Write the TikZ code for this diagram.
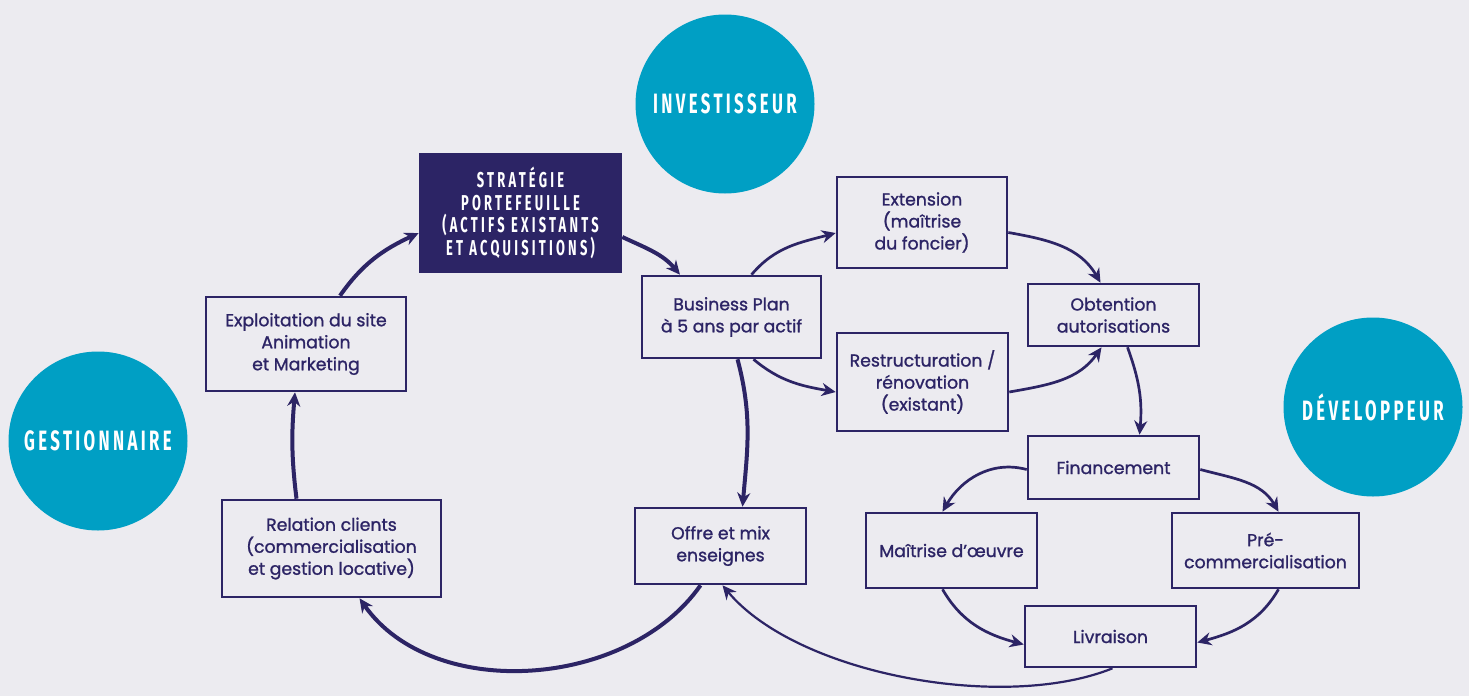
\documentclass[tikz,border=0pt]{standalone}
\usepackage{fontspec}
\setmainfont{Poppins}[UprightFeatures={FakeBold=1.2}]
\newfontfamily\capsfont[FakeStretch=0.6,LetterSpace=12]{Fira Sans}
\newfontfamily\capsfontb[FakeStretch=0.6,LetterSpace=15]{Fira Sans}
\usetikzlibrary{arrows.meta}
\definecolor{navy}{HTML}{2C2465}
\definecolor{cyan}{HTML}{009FC4}
\definecolor{bg}{HTML}{ECEBF0}
\def\boxfont{\fontsize{17.3}{22}\selectfont}
\def\capstext#1{\capsfont\bfseries #1}
\def\strattext#1{\capsfontb\bfseries #1}

\begin{document}
\begin{tikzpicture}[x=1pt,y=-1pt,->,>={Stealth[length=14pt,width=13pt,inset=4.5pt]},draw=navy,line width=2.7pt]
	\tikzstyle{box}=[draw=navy,line width=2.6pt,align=center,text=navy,font=\boxfont,inner sep=0pt]
	\tikzstyle{role}=[circle,fill=cyan,minimum size=179pt,inner sep=0pt,text=white,font=\fontsize{28}{30}\selectfont]
	\tikzstyle{thick}=[line width=4pt]
	\tikzstyle{thin}=[line width=2.2pt]
	
	\fill[bg] (0,0) rectangle (1469,696);
	\useasboundingbox (0,0) rectangle (1469,696);
	
	% acteurs
	\node[role] (inv) at (725,104) {\capstext{INVESTISSEUR}};
	\node[role] (gest) at (98,441) {\capstext{GESTIONNAIRE}};
	\node[role] (dev) at (1373,407) {\capstext{DÉVELOPPEUR}};
	
	% etapes
	\node[box,fill=navy,text=white,minimum width=201pt,minimum height=118pt,font=\fontsize{21.5}{22.5}\selectfont] (strat) at (520.5,213)
		{\strattext{STRATÉGIE}\\\strattext{PORTEFEUILLE}\\\strattext{(ACTIFS EXISTANTS}\\\strattext{ET ACQUISITIONS)}};
	\node[box,minimum width=179pt,minimum height=82pt] (bp) at (731.5,317) {Business Plan\\à 5 ans par actif};
	\node[box,minimum width=170pt,minimum height=91pt] (ext) at (922,222.5) {Extension\\(maîtrise\\du foncier)};
	\node[box,minimum width=171pt,minimum height=98pt] (rest) at (922.5,382) {Restructuration /\\rénovation\\(existant)};
	\node[box,minimum width=171pt,minimum height=62pt] (obt) at (1113.5,315) {Obtention\\autorisations};
	\node[box,minimum width=171pt,minimum height=63pt] (fin) at (1113.5,467.5) {Financement};
	\node[box,minimum width=171pt,minimum height=75pt] (moe) at (951.5,550.5) {Maîtrise d'œuvre};
	\node[box,minimum width=187pt,minimum height=75pt] (pre) at (1265.5,550.5) {Pré-\\commercialisation};
	\node[box,minimum width=171pt,minimum height=61pt] (liv) at (1110.5,636.5) {Livraison};
	\node[box,minimum width=171pt,minimum height=76pt] (offre) at (720.5,546) {Offre et mix\\enseignes};
	\node[box,minimum width=219pt,minimum height=97pt] (rel) at (331.5,548.5) {Relation clients\\(commercialisation\\et gestion locative)};
	\node[box,minimum width=200pt,minimum height=94pt] (expl) at (306,344) {Exploitation du site\\Animation\\et Marketing};
	
	% cycle investisseur / gestionnaire
	\path ([xshift=34pt]expl.north) edge [thick,out=55,in=205] ([yshift=-20pt]strat.west);
	\path ([yshift=-24pt]strat.east) edge [thick,out=-25,in=130] ([xshift=-51.5pt]bp.north);
	\path ([xshift=6pt]bp.south) edge [thick,out=-75,in=85] ([xshift=22pt]offre.north);
	\path ([xshift=-20pt]offre.south) edge [thick,out=-125,in=-55,looseness=0.95] ([xshift=28pt]rel.south);
	\path ([xshift=-35pt]rel.north) edge [thick,out=97,in=-95] ([xshift=-11pt]expl.south);
	
	% developpement
	\path ([xshift=20pt]bp.north) edge [out=50,in=195] ([yshift=-10.5pt]ext.west);
	\path ([xshift=22pt]bp.south) edge [out=-40,in=170] ([yshift=-10pt]rest.west);
	\path ([yshift=-10pt]ext.east) edge [out=-10,in=120] ([xshift=-13pt]obt.north);
	\path ([yshift=-10pt]rest.east) edge [out=10,in=235] ([xshift=-12pt]obt.south);
	\path ([xshift=14pt]obt.south) edge [out=-70,in=85] ([xshift=26pt]fin.north);
	\path ([yshift=-2pt]fin.west) edge [out=165,in=60] ([xshift=-9pt]moe.north);
	\path ([yshift=-2pt]fin.east) edge [out=-15,in=120] ([xshift=13pt]pre.north);
	\path ([xshift=-9pt]moe.south) edge [out=-60,in=165] ([yshift=-8pt]liv.west);
	\path ([xshift=13pt]pre.south) edge [out=-120,in=15] ([yshift=-6pt]liv.east);
	\path ([xshift=2pt]liv.south) edge [thin,out=-158,in=-50,looseness=0.75] ([xshift=2pt]offre.south);
\end{tikzpicture}
\end{document}
